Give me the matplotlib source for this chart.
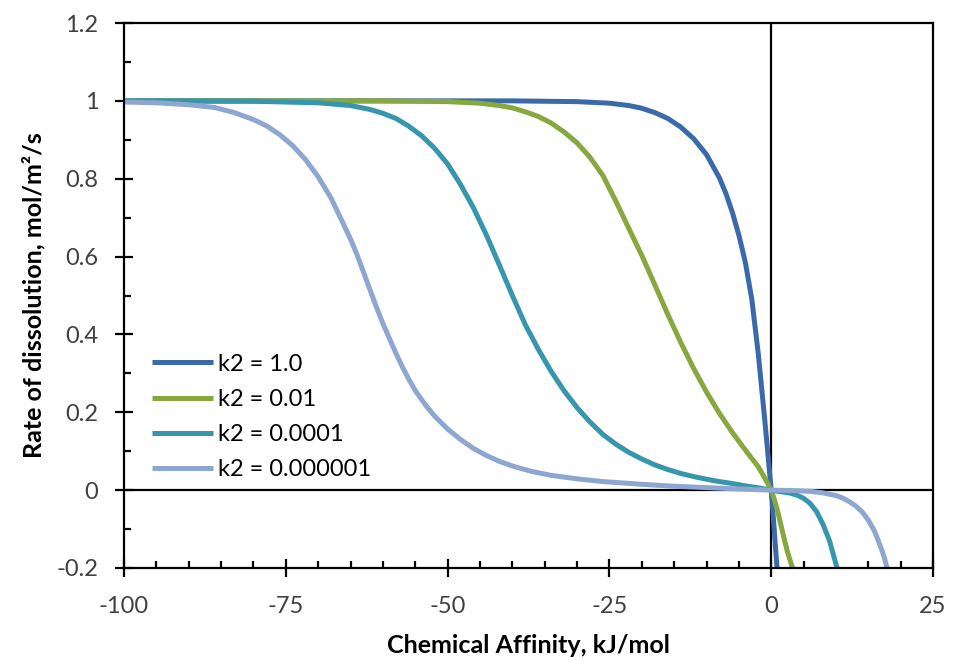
import matplotlib
matplotlib.use("Agg")
import matplotlib.pyplot as plt
from matplotlib.ticker import MultipleLocator

plt.rcParams['font.family'] = ['Lato', 'DejaVu Sans']

# rate of dissolution vs chemical affinity (kJ/mol), one curve per k2
A_k1 = [-100, -40, -30, -25, -22, -20, -18, -16, -14, -12, -10, -8, -7, -6, -5, -4, -3,
        -2, -1.5, -1, -0.5, 0, 0.3, 0.6, 0.9]
r_k1 = [1.0, 1.0, 0.998, 0.994, 0.988, 0.981, 0.970, 0.955, 0.933, 0.903, 0.862, 0.802,
        0.762, 0.713, 0.655, 0.585, 0.49, 0.35, 0.265, 0.18, 0.09, 0, -0.065, -0.135, -0.2]

A_k01 = [-100, -60, -50, -45, -42, -40, -38, -36, -34, -32, -30, -28, -26, -24, -22, -20,
         -18, -16, -14, -12, -10, -8, -6, -4, -2, -1, 0, 0.5, 1, 1.5, 2, 2.5, 3, 3.3]
r_k01 = [1.0, 1.0, 0.998, 0.994, 0.988, 0.982, 0.972, 0.960, 0.943, 0.920, 0.892, 0.855,
         0.808, 0.742, 0.672, 0.603, 0.528, 0.452, 0.38, 0.313, 0.252, 0.197, 0.148, 0.103,
         0.06, 0.031, 0, -0.025, -0.055, -0.09, -0.125, -0.158, -0.185, -0.2]

A_k0001 = [-100, -80, -70, -65, -62, -60, -58, -56, -54, -52, -50, -48, -46, -44, -42, -40,
           -38, -36, -34, -32, -30, -28, -26, -24, -22, -20, -18, -16, -14, -12, -10, -8,
           -6, -4, -2, 0, 1, 2, 3, 4, 5, 6, 7, 8, 9, 10, 10.2]
r_k0001 = [1.0, 0.999, 0.995, 0.988, 0.978, 0.968, 0.955, 0.935, 0.910, 0.878, 0.838, 0.785,
           0.725, 0.655, 0.578, 0.500, 0.425, 0.362, 0.305, 0.255, 0.212, 0.175, 0.143, 0.118,
           0.097, 0.080, 0.065, 0.053, 0.043, 0.035, 0.028, 0.022, 0.017, 0.011, 0.006, 0,
           -0.003, -0.005, -0.008, -0.013, -0.021, -0.034, -0.055, -0.088, -0.13, -0.19, -0.2]

A_k000001 = [-100, -95, -90, -86, -83, -80, -78, -76, -74, -72, -70, -68, -66, -65, -64, -63,
             -62, -61, -60, -59, -58, -57, -56, -55, -54, -53, -52, -50, -48, -46, -44, -42,
             -40, -37, -34, -30, -26, -20, -15, -10, -5, 0, 3, 6, 8, 10, 11, 12, 13, 14, 15,
             16, 17, 17.5, 17.9]
r_k000001 = [0.997, 0.995, 0.99, 0.983, 0.97, 0.952, 0.936, 0.914, 0.886, 0.85, 0.805, 0.75,
             0.68, 0.645, 0.605, 0.56, 0.515, 0.47, 0.428, 0.39, 0.352, 0.317, 0.285, 0.256,
             0.232, 0.21, 0.19, 0.157, 0.13, 0.107, 0.089, 0.074, 0.062, 0.048, 0.038, 0.029,
             0.022, 0.015, 0.01, 0.0065, 0.003, 0, -0.001, -0.003, -0.007, -0.014, -0.02,
             -0.029, -0.04, -0.055, -0.077, -0.107, -0.15, -0.175, -0.2]

labels = ['k2 = 1.0', 'k2 = 0.01', 'k2 = 0.0001', 'k2 = 0.000001']
colors = ['#3a6aa9', '#86a83f', '#3596ad', '#8ea7d1']

x_ticks = [-100, -75, -50, -25, 0, 25]
y_ticks = [-0.2, 0, 0.2, 0.4, 0.6, 0.8, 1.0, 1.2]
y_ticklabels = ['-0.2', '0', '0.2', '0.4', '0.6', '0.8', '1', '1.2']

fig = plt.figure(figsize=(9.56, 6.61), dpi=100)
ax = fig.add_axes([0.1297, 0.1407, 0.8463, 0.8245])

ax.axhline(0, color='black', lw=1.6, zorder=1)
ax.axvline(0, color='black', lw=1.6, zorder=1)

series = [(A_k1, r_k1), (A_k01, r_k01), (A_k0001, r_k0001), (A_k000001, r_k000001)]
for (xs, ys), lab, c in zip(series, labels, colors):
    ax.plot(xs, ys, color=c, lw=3.6, label=lab, solid_capstyle='butt',
            solid_joinstyle='round', zorder=2)

ax.set_xlim(-100, 25)
ax.set_ylim(-0.2, 1.2)
ax.set_xticks(x_ticks)
ax.set_xticklabels([str(v) for v in x_ticks])
ax.set_yticks(y_ticks)
ax.set_yticklabels(y_ticklabels)
ax.xaxis.set_minor_locator(MultipleLocator(5))
ax.yaxis.set_minor_locator(MultipleLocator(0.1))

for s in ax.spines.values():
    s.set_linewidth(1.6)
    s.set_color('black')

ax.tick_params(which='major', direction='inout', length=13, width=1.6,
               labelsize=17, labelcolor='#404040', pad=12)
ax.tick_params(which='minor', direction='in', length=5, width=1.6)
ax.tick_params(axis='x', which='major', pad=14)

ax.set_xlabel('Chemical Affinity, kJ/mol', fontsize=18, fontweight='bold', labelpad=12)
ax.set_ylabel('Rate of dissolution, mol/m²/s', fontsize=18, fontweight='bold', labelpad=8)

ax.legend(loc='upper left', bbox_to_anchor=(0.02, 0.415), frameon=False, fontsize=17,
          handlelength=2.6, handletextpad=0.2, labelspacing=0.6, borderpad=0)

fig.savefig('out.png', dpi=100)
